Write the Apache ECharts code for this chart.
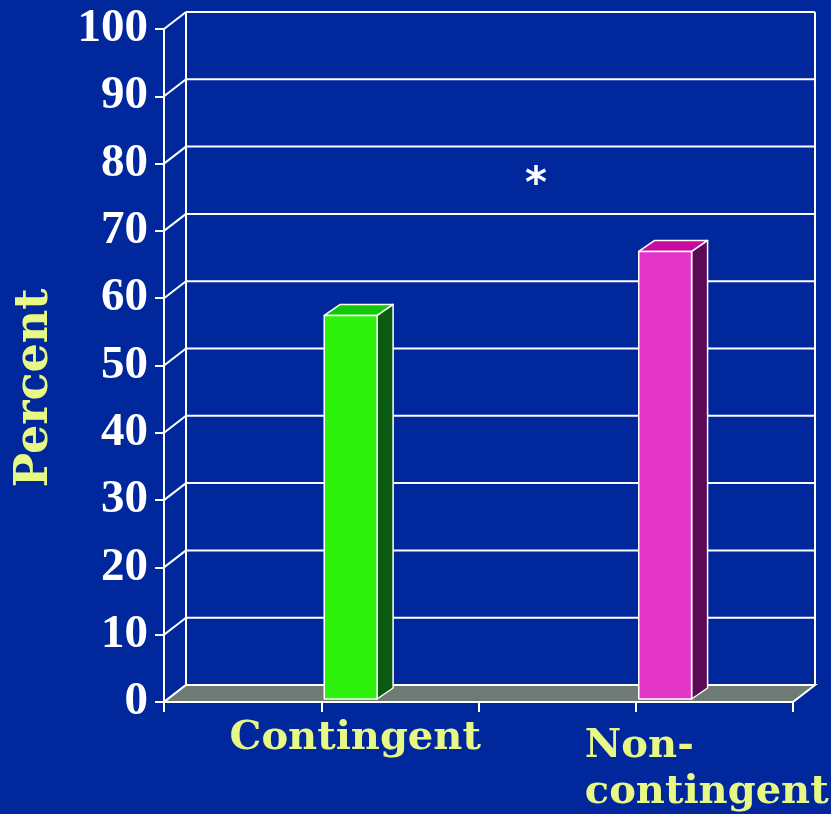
<!DOCTYPE html>
<html>
<head>
<meta charset="utf-8">
<title>Percent by condition</title>
<script src="https://cdn.jsdelivr.net/npm/echarts@6/dist/echarts.min.js"></script>
<style>
  html, body { margin: 0; padding: 0; background: #00289c; }
  #chart { width: 831px; height: 814px; }
</style>
</head>
<body>
<div id="chart"></div>
<script>
// Chart data
const categories = ['Contingent', 'Non-\ncontingent'];
const percentValues = [57, 66.5];
const yTicks = { min: 0, max: 100, interval: 10 };

// Face colours per bar: [front, top, side]
const barFaces = [
  ['#2cf20c', '#12c80a', '#0a5a12'],
  ['#e336c9', '#c80a9e', '#5c0a55']
];

const BG = '#00289c';
const LABEL_COLOR = '#e8f884';
const WALL_DX = 22, WALL_DY = -17;   // depth of the back wall
const BAR_DX = 3, BAR_DY = -3;       // bar front face inset from the front plane
const BAR_DEPTH_X = 16, BAR_DEPTH_Y = -11;

const chart = echarts.init(document.getElementById('chart'));

// Walls and floor of the pseudo-3D box
function renderWalls(params, api) {
  const cs = params.coordSys;
  const x0 = cs.x, x1 = cs.x + cs.width;
  const yBase = api.coord([0, yTicks.min])[1];
  const yTop = api.coord([0, yTicks.max])[1];
  const line = { stroke: '#ffffff', lineWidth: 2 };
  const children = [];
  // back wall edges
  children.push({ type: 'line', shape: { x1: x0 + WALL_DX, y1: yTop + WALL_DY, x2: x0 + WALL_DX, y2: yBase + WALL_DY }, style: line });
  children.push({ type: 'line', shape: { x1: x1 + WALL_DX, y1: yTop + WALL_DY, x2: x1 + WALL_DX, y2: yBase + WALL_DY }, style: line });
  for (let v = yTicks.min; v <= yTicks.max; v += yTicks.interval) {
    const y = api.coord([0, v])[1];
    children.push({ type: 'line', shape: { x1: x0 + WALL_DX, y1: y + WALL_DY, x2: x1 + WALL_DX, y2: y + WALL_DY }, style: line });
    children.push({ type: 'line', shape: { x1: x0, y1: y, x2: x0 + WALL_DX, y2: y + WALL_DY }, style: line });
  }
  // floor
  children.push({
    type: 'polygon',
    shape: { points: [[x0, yBase], [x1, yBase], [x1 + WALL_DX, yBase + WALL_DY], [x0 + WALL_DX, yBase + WALL_DY]] },
    style: { fill: '#6e7a74', stroke: '#ffffff', lineWidth: 2 }
  });
  return { type: 'group', children: children };
}

// One prism per category
function renderBar(params, api) {
  const i = api.value(0);
  const v = api.value(1);
  const band = api.size([1, 0])[0];
  const w = band * 0.168;
  const top = api.coord([i, v]);
  const base = api.coord([i, 0]);
  const fx = top[0] + BAR_DX;
  const ft = top[1] + BAR_DY;
  const fb = base[1] + BAR_DY;
  const faces = barFaces[i];
  const edge = { stroke: '#ffffff', lineWidth: 1.5, lineJoin: 'round' };
  return {
    type: 'group',
    children: [
      { type: 'polygon', shape: { points: [[fx + w, ft], [fx + w + BAR_DEPTH_X, ft + BAR_DEPTH_Y], [fx + w + BAR_DEPTH_X, fb + BAR_DEPTH_Y], [fx + w, fb]] },
        style: Object.assign({ fill: faces[2] }, edge) },
      { type: 'polygon', shape: { points: [[fx, ft], [fx + w, ft], [fx + w + BAR_DEPTH_X, ft + BAR_DEPTH_Y], [fx + BAR_DEPTH_X, ft + BAR_DEPTH_Y]] },
        style: Object.assign({ fill: faces[1] }, edge) },
      { type: 'rect', shape: { x: fx, y: ft, width: w, height: fb - ft },
        style: Object.assign({ fill: faces[0] }, edge) }
    ]
  };
}

// Category labels below the floor
function renderCategoryLabels(params, api) {
  const i = api.value(0);
  const p = api.coord([i, 0]);
  const band = api.size([1, 0])[0];
  const style = {
    text: categories[i],
    fill: LABEL_COLOR,
    font: 'bold 40px "DejaVu Serif"',
    lineHeight: 46
  };
  if (i === 0) {
    Object.assign(style, { x: p[0] + band * 0.108, y: p[1] + 14, align: 'center', verticalAlign: 'top' });
  } else {
    Object.assign(style, { x: p[0] - band * 0.162, y: p[1] + 22, align: 'left', verticalAlign: 'top' });
  }
  return { type: 'text', style: style };
}

const barData = categories.map((c, i) => [i, percentValues[i]]);

chart.setOption({
  backgroundColor: BG,
  animation: false,
  grid: { left: 164, right: 38, top: 29, bottom: 112 },
  xAxis: [
    {
      type: 'category',
      data: categories,
      boundaryGap: true,
      axisLine: { lineStyle: { color: '#ffffff', width: 2 } },
      axisTick: { show: true, length: 10, lineStyle: { color: '#ffffff', width: 2 } },
      axisLabel: { show: false },
      splitLine: { show: false }
    },
    {
      type: 'category',
      data: categories,
      position: 'bottom',
      boundaryGap: true,
      axisLine: { show: false },
      axisTick: { show: true, alignWithLabel: true, length: 10, lineStyle: { color: '#ffffff', width: 2 } },
      axisLabel: { show: false },
      splitLine: { show: false }
    }
  ],
  yAxis: {
    type: 'value',
    min: yTicks.min,
    max: yTicks.max,
    interval: yTicks.interval,
    axisLine: { show: true, lineStyle: { color: '#ffffff', width: 2 } },
    axisTick: { show: true, length: 9, lineStyle: { color: '#ffffff', width: 2 } },
    axisLabel: {
      color: '#ffffff',
      fontFamily: '"Liberation Serif", "Times New Roman", serif',
      fontWeight: 'bold',
      fontSize: 47,
      margin: 16
    },
    splitLine: { show: false }
  },
  graphic: [
    {
      type: 'text',
      x: 35, y: 388,
      rotation: Math.PI / 2,
      style: {
        text: 'Percent',
        fill: LABEL_COLOR,
        font: 'bold 46px "DejaVu Serif"',
        align: 'center',
        verticalAlign: 'middle'
      }
    },
    {
      type: 'text',
      x: 536, y: 186,
      style: {
        text: '*',
        fill: '#ffffff',
        font: 'bold 42px "DejaVu Sans"',
        align: 'center',
        verticalAlign: 'middle'
      }
    }
  ],
  series: [
    { type: 'custom', renderItem: renderWalls, data: [[0, 0]], silent: true, z: 1 },
    { type: 'custom', renderItem: renderBar, data: barData, z: 3 },
    { type: 'custom', renderItem: renderCategoryLabels, data: barData, silent: true, z: 3, clip: false }
  ]
});
</script>
</body>
</html>
